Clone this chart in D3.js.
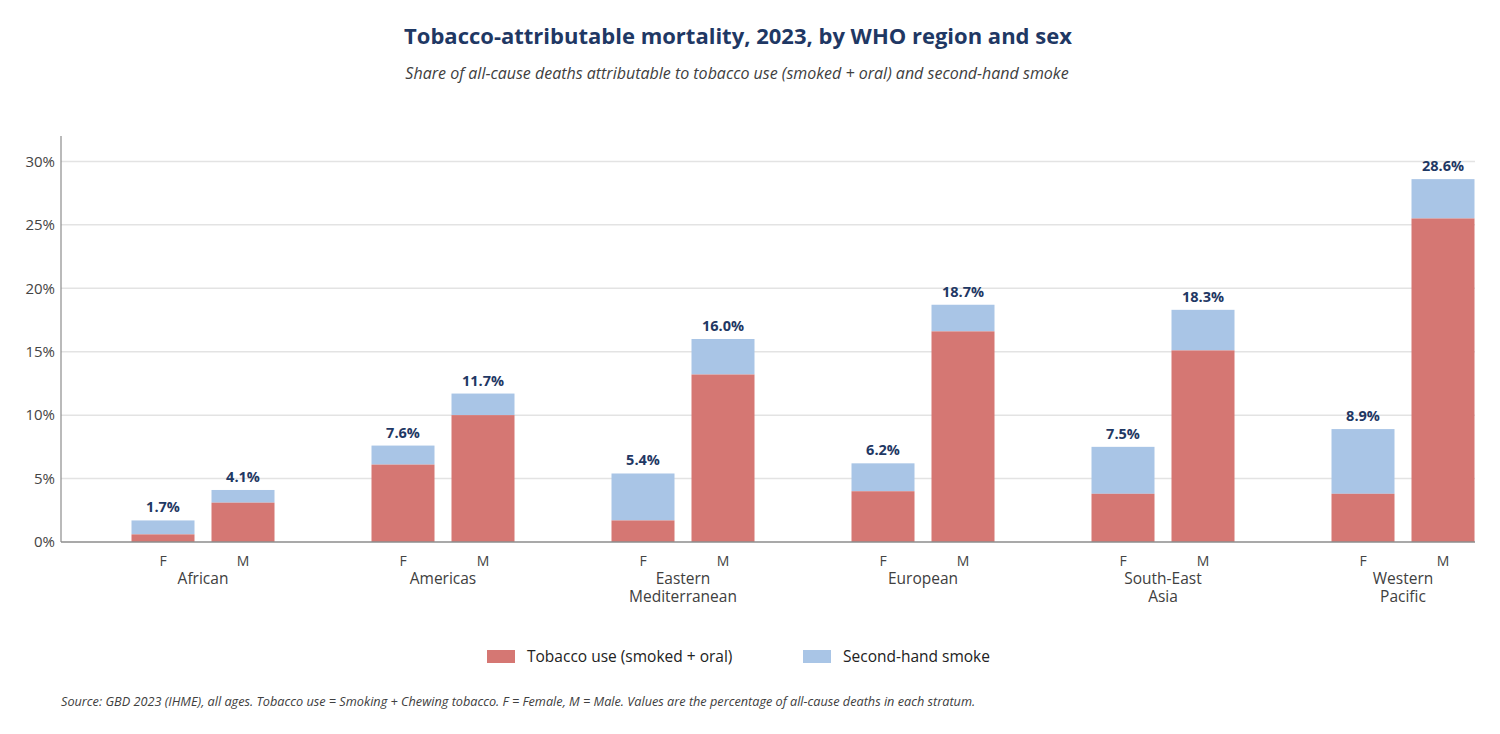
<!DOCTYPE html>
<html>
<head>
<meta charset="utf-8">
<script src="https://cdn.jsdelivr.net/npm/d3@7"></script>
<style>
  body { margin:0; background:#fff; font-family:"Open Sans", "Liberation Sans", sans-serif; }
  .axis text { font-size:15px; fill:#444; font-family:"Open Sans", sans-serif; }
  .grid line { stroke:#e3e3e3; stroke-width:1.5; }
</style>
</head>
<body>
<svg id="chart"></svg>
<script>
// data
var regions = ["African","Americas","Eastern Mediterranean","European","South-East Asia","Western Pacific"]
var regionLines = [["African"],["Americas"],["Eastern","Mediterranean"],["European"],["South-East","Asia"],["Western","Pacific"]]
var sexes = ["F","M"]
var tobaccoF = [0.6, 6.1, 1.7, 4.0, 3.8, 3.8]
var tobaccoM = [3.1, 10.0, 13.2, 16.6, 15.1, 25.5]
var totalF = [1.7, 7.6, 5.4, 6.2, 7.5, 8.9]
var totalM = [4.1, 11.7, 16.0, 18.7, 18.3, 28.6]
var yTicks = [0,5,10,15,20,25,30]
var seriesNames = ["Tobacco use (smoked + oral)","Second-hand smoke"]
var colors = ["#d57773","#a9c5e6"]

var rows = []
regions.forEach(function(r,i)
{
    rows.push({region:r, sex:"F", tobacco:tobaccoF[i], total:totalF[i]})
    rows.push({region:r, sex:"M", tobacco:tobaccoM[i], total:totalM[i]})
})

var screen = {width:1500,height:734}
var margins = {left:61,right:25,top:136,bottom:192}
var graph = {width:screen.width-margins.left-margins.right, height:screen.height-margins.top-margins.bottom}

var svg = d3.select("#chart").attr("width",screen.width).attr("height",screen.height)

svg.append("text")
    .text("Tobacco-attributable mortality, 2023, by WHO region and sex")
    .attr("x",738).attr("y",44)
    .attr("text-anchor","middle")
    .style("font-size","22px").style("font-weight","bold").style("fill","#1f3864")

svg.append("text")
    .text("Share of all-cause deaths attributable to tobacco use (smoked + oral) and second-hand smoke")
    .attr("x",737).attr("y",79)
    .attr("text-anchor","middle")
    .style("font-size","16px").style("font-style","italic").style("fill","#404040")

var target = svg.append("g")
    .attr("transform","translate("+margins.left+","+margins.top+")")

var yScale = d3.scaleLinear().domain([0,32]).range([graph.height,0])

var xScale = d3.scaleBand()
    .domain(regions)
    .range([22, 22+240*regions.length])

var sexScale = d3.scaleBand()
    .domain(sexes)
    .range([40,200])
    .paddingInner(0.2125)
    .paddingOuter(0.10625)

// gridlines
target.append("g").attr("class","grid")
    .selectAll("line")
    .data(yTicks.filter(function(d){return d>0}))
    .enter().append("line")
    .attr("x1",0).attr("x2",graph.width)
    .attr("y1",function(d){return yScale(d)})
    .attr("y2",function(d){return yScale(d)})

// y axis
var yAxis = d3.axisLeft(yScale).tickValues(yTicks).tickSize(0).tickPadding(6)
    .tickFormat(function(d){return d+"%"})
var yg = target.append("g").attr("class","axis").call(yAxis)
yg.select(".domain").remove()
target.append("line")
    .attr("x1",0).attr("x2",0).attr("y1",0).attr("y2",graph.height)
    .style("stroke","#8c8c8c").style("stroke-width",1.2)

// bars
var bars = target.selectAll(".bar")
    .data(rows)
    .enter().append("g")
    .attr("transform",function(d){return "translate("+(xScale(d.region)+sexScale(d.sex))+",0)"})

bars.append("rect")
    .attr("y",function(d){return yScale(d.total)})
    .attr("width",sexScale.bandwidth())
    .attr("height",function(d){return yScale(d.tobacco)-yScale(d.total)})
    .attr("fill",colors[1])

bars.append("rect")
    .attr("y",function(d){return yScale(d.tobacco)})
    .attr("width",sexScale.bandwidth())
    .attr("height",function(d){return graph.height-yScale(d.tobacco)})
    .attr("fill",colors[0])

bars.append("text")
    .text(function(d){return d.total.toFixed(1)+"%"})
    .attr("x",sexScale.bandwidth()/2)
    .attr("y",function(d){return yScale(d.total)-8})
    .attr("text-anchor","middle")
    .style("font-size","14.5px").style("font-weight","bold").style("fill","#1f3864")

bars.append("text")
    .text(function(d){return d.sex})
    .attr("x",sexScale.bandwidth()/2)
    .attr("y",graph.height+24)
    .attr("text-anchor","middle")
    .style("font-size","14px").style("fill","#444")

// x axis line
target.append("line")
    .attr("x1",0).attr("x2",graph.width)
    .attr("y1",graph.height).attr("y2",graph.height)
    .style("stroke","#8c8c8c").style("stroke-width",1.5)

// region labels, one text per line
regions.forEach(function(r,i)
{
    target.selectAll(".rl"+i)
        .data(regionLines[i])
        .enter().append("text")
        .text(function(d){return d})
        .attr("text-anchor","middle")
        .attr("x",xScale(r)+xScale.bandwidth()/2)
        .attr("y",function(d,j){return graph.height+42+j*18})
        .style("font-size","15.5px").style("fill","#404040")
})

// legend
var legend = svg.append("g")
    .attr("transform","translate(487,650)")
var entries = legend.selectAll("g")
    .data(seriesNames)
    .enter().append("g")
    .attr("transform",function(d,i){return "translate("+(i*316)+",0)"})
entries.append("rect")
    .attr("width",28).attr("height",13)
    .attr("fill",function(d,i){return colors[i]})
entries.append("text")
    .text(function(d){return d})
    .attr("x",40).attr("y",12)
    .style("font-size","15.5px").style("fill","#222")

svg.append("text")
    .text("Source: GBD 2023 (IHME), all ages. Tobacco use = Smoking + Chewing tobacco. F = Female, M = Male. Values are the percentage of all-cause deaths in each stratum.")
    .attr("x",61).attr("y",706)
    .style("font-size","12.7px").style("font-style","italic").style("fill","#404040")
</script>
</body>
</html>
